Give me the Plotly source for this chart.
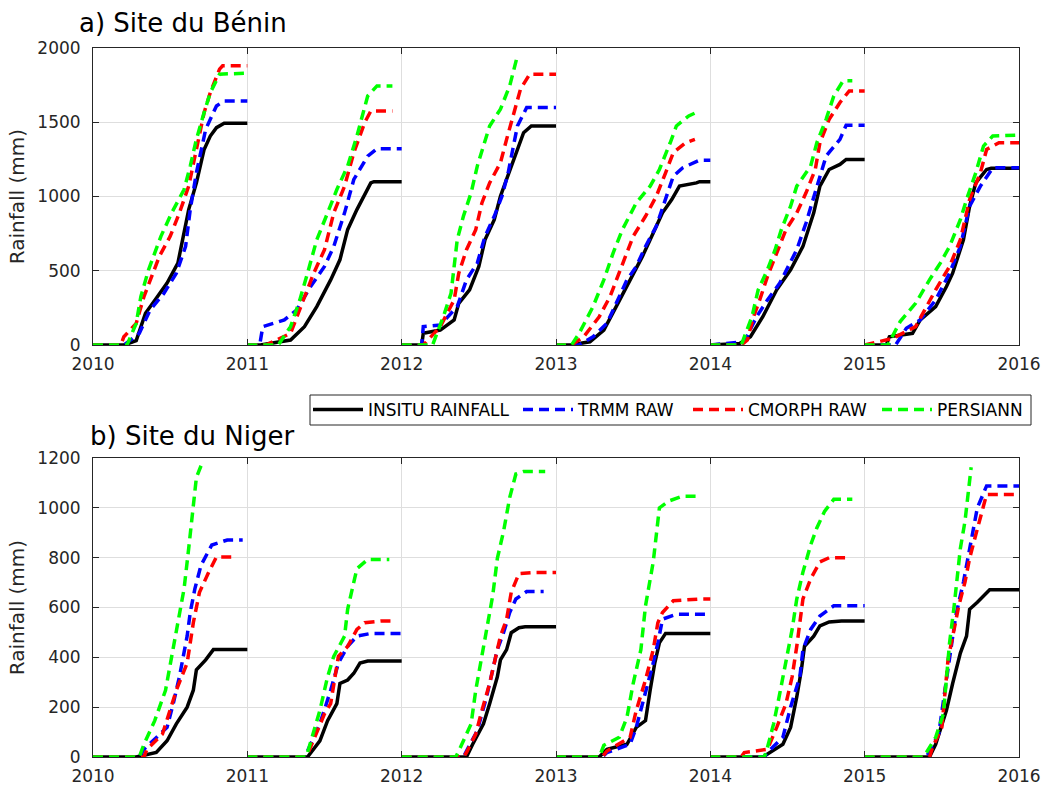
import plotly.graph_objects as go

# cumulative rainfall (mm) per year, as (fraction of year, mm) pairs
YEARS = [2010, 2011, 2012, 2013, 2014, 2015]
SERIES_NAMES = ["INSITU RAINFALL", "TRMM RAW", "CMORPH RAW", "PERSIANN"]
SERIES_COLORS = ["#000000", "#0000ff", "#ff0000", "#00ff00"]

benin_insitu = [
    [(0, 0), (0.2, 0), (0.28, 30), (0.34, 214), (0.41, 315), (0.48, 417), (0.55, 552), (0.6, 800), (0.62, 912), (0.67, 1092), (0.72, 1317), (0.76, 1407), (0.8, 1464), (0.85, 1493), (1, 1493)],
    [(0, 0), (0.085, 0), (0.28, 34), (0.37, 124), (0.45, 259), (0.54, 439), (0.6, 574), (0.65, 777), (0.71, 912), (0.77, 1025), (0.8, 1092), (0.82, 1100), (1, 1100)],
    [(0, 0), (0.13, 0), (0.14, 79), (0.25, 101), (0.34, 169), (0.37, 281), (0.44, 372), (0.5, 529), (0.54, 709), (0.6, 844), (0.64, 1002), (0.68, 1115), (0.74, 1295), (0.79, 1430), (0.84, 1475), (1, 1475)],
    [(0, 0), (0.09, 0), (0.22, 22), (0.31, 101), (0.39, 259), (0.48, 439), (0.56, 597), (0.63, 754), (0.69, 890), (0.75, 980), (0.8, 1070), (0.91, 1092), (0.93, 1100), (1, 1100)],
    [(0, 0), (0.19, 11), (0.26, 56), (0.34, 191), (0.43, 372), (0.52, 507), (0.6, 664), (0.67, 890), (0.71, 1070), (0.77, 1182), (0.84, 1216), (0.88, 1250), (1, 1250)],
    [(0, 0), (0.14, 0), (0.16, 56), (0.31, 79), (0.36, 169), (0.46, 259), (0.53, 394), (0.57, 484), (0.64, 709), (0.68, 935), (0.72, 1092), (0.79, 1182), (0.82, 1190), (1, 1190)],
]
benin_trmm = [
    [(0, 0), (0.2, 0), (0.3, 79), (0.37, 236), (0.46, 349), (0.54, 484), (0.6, 664), (0.63, 912), (0.67, 1160), (0.73, 1452), (0.8, 1610), (0.85, 1644), (1, 1644)],
    [(0, 0), (0.08, 0), (0.1, 124), (0.24, 169), (0.32, 236), (0.41, 394), (0.5, 529), (0.56, 664), (0.63, 890), (0.69, 1115), (0.78, 1272), (0.84, 1322), (1, 1322)],
    [(0, 0), (0.13, 0), (0.14, 124), (0.25, 135), (0.36, 259), (0.42, 439), (0.49, 552), (0.54, 732), (0.6, 867), (0.65, 1002), (0.69, 1160), (0.75, 1475), (0.81, 1599), (1, 1599)],
    [(0, 0), (0.15, 0), (0.24, 56), (0.33, 146), (0.39, 281), (0.46, 439), (0.52, 529), (0.58, 664), (0.65, 800), (0.71, 980), (0.76, 1137), (0.82, 1193), (0.93, 1245), (1, 1245)],
    [(0, 0), (0.22, 22), (0.3, 191), (0.37, 304), (0.45, 417), (0.56, 642), (0.62, 822), (0.68, 1025), (0.75, 1272), (0.84, 1385), (0.88, 1480), (1, 1480)],
    [(0, 0), (0.2, 0), (0.27, 113), (0.36, 169), (0.46, 304), (0.55, 484), (0.62, 664), (0.68, 935), (0.75, 1070), (0.83, 1193), (1, 1193)],
]
benin_cmorph = [
    [(0, 0), (0.18, 0), (0.2, 56), (0.28, 146), (0.33, 326), (0.38, 461), (0.43, 597), (0.5, 732), (0.56, 890), (0.62, 1070), (0.67, 1317), (0.72, 1565), (0.76, 1700), (0.82, 1858), (0.84, 1880), (1, 1880)],
    [(0, 0), (0.12, 0), (0.28, 79), (0.37, 326), (0.43, 484), (0.5, 642), (0.56, 890), (0.63, 1070), (0.69, 1295), (0.76, 1497), (0.8, 1576), (0.94, 1576)],
    [(0, 0), (0.14, 0), (0.25, 124), (0.34, 304), (0.37, 484), (0.42, 642), (0.48, 777), (0.52, 957), (0.57, 1092), (0.64, 1227), (0.68, 1385), (0.72, 1543), (0.77, 1723), (0.83, 1824), (1, 1824)],
    [(0, 0), (0.1, 0), (0.18, 56), (0.28, 191), (0.35, 326), (0.41, 484), (0.5, 732), (0.58, 867), (0.65, 1002), (0.71, 1160), (0.76, 1295), (0.84, 1362), (0.9, 1385)],
    [(0, 0), (0.2, 0), (0.24, 34), (0.28, 191), (0.32, 304), (0.37, 461), (0.43, 619), (0.49, 777), (0.56, 890), (0.62, 1025), (0.68, 1182), (0.71, 1362), (0.77, 1520), (0.84, 1633), (0.9, 1711), (1, 1711)],
    [(0, 0), (0.18, 45), (0.33, 124), (0.4, 259), (0.46, 372), (0.55, 529), (0.62, 709), (0.68, 980), (0.75, 1160), (0.79, 1317), (0.87, 1362), (1, 1362)],
]
benin_persiann = [
    [(0, 0), (0.22, 0), (0.28, 146), (0.31, 326), (0.36, 507), (0.4, 619), (0.44, 732), (0.51, 890), (0.59, 1047), (0.63, 1205), (0.67, 1385), (0.72, 1565), (0.76, 1700), (0.82, 1824), (1, 1830)],
    [(0, 0), (0.2, 0), (0.28, 124), (0.34, 304), (0.39, 484), (0.45, 709), (0.52, 890), (0.58, 1047), (0.65, 1205), (0.71, 1407), (0.78, 1677), (0.84, 1745), (0.94, 1745)],
    [(0, 0), (0.2, 0), (0.27, 191), (0.32, 349), (0.34, 529), (0.36, 709), (0.4, 867), (0.45, 1025), (0.49, 1205), (0.53, 1340), (0.57, 1475), (0.64, 1588), (0.7, 1745), (0.75, 1948)],
    [(0, 0), (0.1, 0), (0.15, 79), (0.24, 259), (0.31, 439), (0.37, 619), (0.43, 777), (0.52, 957), (0.61, 1070), (0.67, 1182), (0.74, 1362), (0.78, 1475), (0.86, 1543), (0.93, 1576)],
    [(0, 0), (0.2, 0), (0.27, 191), (0.31, 372), (0.37, 507), (0.42, 642), (0.46, 777), (0.52, 935), (0.56, 1070), (0.65, 1205), (0.69, 1362), (0.75, 1520), (0.8, 1677), (0.86, 1779), (0.92, 1779)],
    [(0, 0), (0.15, 0), (0.23, 158), (0.33, 281), (0.42, 439), (0.49, 552), (0.55, 664), (0.62, 844), (0.66, 980), (0.72, 1160), (0.77, 1340), (0.83, 1407), (1, 1414)],
]

niger_insitu = [
    [(0, 0), (0.28, 0), (0.41, 18), (0.48, 65), (0.54, 133), (0.61, 200), (0.65, 268), (0.67, 350), (0.73, 390), (0.78, 431), (1, 431)],
    [(0, 0), (0.39, 0), (0.47, 65), (0.52, 146), (0.58, 214), (0.6, 295), (0.65, 309), (0.69, 336), (0.73, 377), (0.78, 385), (1, 385)],
    [(0, 0), (0.42, 0), (0.46, 51), (0.53, 133), (0.57, 214), (0.62, 322), (0.64, 390), (0.68, 431), (0.71, 499), (0.76, 519), (0.8, 523), (1, 523)],
    [(0, 0), (0.28, 0), (0.33, 31), (0.46, 51), (0.52, 119), (0.58, 146), (0.61, 268), (0.64, 377), (0.67, 458), (0.71, 496), (1, 496)],
    [(0, 0), (0.34, 0), (0.47, 51), (0.52, 119), (0.56, 241), (0.59, 350), (0.61, 444), (0.67, 485), (0.71, 526), (0.77, 542), (0.85, 546), (1, 546)],
    [(0, 0), (0.42, 0), (0.46, 51), (0.53, 187), (0.57, 295), (0.62, 417), (0.66, 485), (0.68, 593), (0.73, 621), (0.77, 648), (0.81, 671), (1, 671)],
]
niger_trmm = [
    [(0, 0), (0.3, 0), (0.33, 31), (0.41, 79), (0.48, 119), (0.52, 214), (0.56, 322), (0.61, 485), (0.63, 580), (0.66, 675), (0.7, 770), (0.77, 851), (0.87, 871), (0.97, 871)],
    [(0, 0), (0.37, 0), (0.39, 24), (0.47, 133), (0.54, 268), (0.59, 377), (0.65, 444), (0.71, 485), (0.8, 496), (1, 496)],
    [(0, 0), (0.4, 0), (0.42, 24), (0.49, 106), (0.55, 241), (0.62, 431), (0.66, 499), (0.7, 580), (0.74, 634), (0.81, 664), (0.92, 664)],
    [(0, 0), (0.3, 0), (0.33, 18), (0.48, 51), (0.52, 119), (0.58, 255), (0.63, 377), (0.66, 458), (0.69, 553), (0.78, 573), (1, 573)],
    [(0, 0), (0.35, 0), (0.37, 18), (0.47, 79), (0.52, 200), (0.58, 322), (0.6, 431), (0.65, 512), (0.71, 566), (0.8, 607), (1, 607)],
    [(0, 0), (0.4, 0), (0.42, 24), (0.48, 92), (0.52, 268), (0.55, 404), (0.59, 566), (0.64, 702), (0.67, 797), (0.7, 905), (0.73, 1000), (0.79, 1088), (1, 1088)],
]
niger_cmorph = [
    [(0, 0), (0.33, 0), (0.35, 31), (0.45, 92), (0.54, 268), (0.61, 377), (0.65, 539), (0.69, 661), (0.75, 742), (0.8, 803), (0.91, 803)],
    [(0, 0), (0.37, 0), (0.39, 11), (0.5, 173), (0.54, 214), (0.59, 404), (0.65, 444), (0.71, 512), (0.76, 539), (0.87, 546), (0.93, 546)],
    [(0, 0), (0.4, 0), (0.42, 18), (0.48, 92), (0.52, 187), (0.57, 295), (0.61, 404), (0.64, 485), (0.68, 553), (0.71, 661), (0.76, 736), (0.85, 740), (1, 740)],
    [(0, 0), (0.3, 0), (0.33, 24), (0.48, 79), (0.52, 187), (0.58, 309), (0.63, 431), (0.66, 539), (0.69, 580), (0.76, 627), (0.93, 634), (1, 634)],
    [(0, 0), (0.2, 0), (0.22, 18), (0.37, 31), (0.43, 119), (0.49, 214), (0.53, 322), (0.56, 444), (0.6, 634), (0.65, 715), (0.71, 783), (0.77, 800), (0.91, 800)],
    [(0, 0), (0.42, 0), (0.44, 38), (0.5, 119), (0.54, 390), (0.61, 607), (0.65, 702), (0.68, 797), (0.72, 892), (0.76, 986), (0.79, 1054), (1, 1054)],
]
niger_persiann = [
    [(0, 0), (0.3, 0), (0.33, 51), (0.4, 146), (0.47, 268), (0.51, 404), (0.55, 539), (0.59, 675), (0.62, 837), (0.65, 1027), (0.67, 1122), (0.7, 1169)],
    [(0, 0), (0.38, 0), (0.4, 38), (0.47, 187), (0.52, 322), (0.56, 404), (0.63, 485), (0.65, 593), (0.69, 702), (0.71, 756), (0.78, 793), (0.92, 793)],
    [(0, 0), (0.35, 0), (0.37, 24), (0.45, 133), (0.48, 268), (0.51, 377), (0.55, 512), (0.59, 648), (0.62, 797), (0.66, 905), (0.7, 1041), (0.74, 1136), (0.79, 1146), (0.93, 1146)],
    [(0, 0), (0.28, 0), (0.31, 47), (0.41, 79), (0.46, 160), (0.5, 295), (0.55, 431), (0.58, 607), (0.63, 783), (0.65, 905), (0.67, 1000), (0.73, 1027), (0.82, 1047), (0.91, 1047)],
    [(0, 0), (0.35, 0), (0.37, 38), (0.41, 133), (0.45, 255), (0.49, 377), (0.53, 512), (0.56, 634), (0.6, 742), (0.65, 851), (0.69, 919), (0.74, 986), (0.8, 1034), (0.92, 1034)],
    [(0, 0), (0.38, 0), (0.4, 18), (0.46, 79), (0.51, 173), (0.53, 309), (0.55, 458), (0.58, 607), (0.6, 729), (0.62, 837), (0.65, 946), (0.67, 1054), (0.69, 1163)],
]

BENIN = [benin_insitu, benin_trmm, benin_cmorph, benin_persiann]
NIGER = [niger_insitu, niger_trmm, niger_cmorph, niger_persiann]


def to_xy(per_year):
    # join the yearly curves into one trace, broken at each new year
    xs, ys = [], []
    for year, pts in zip(YEARS, per_year):
        for frac, mm in pts:
            xs.append(year + frac)
            ys.append(mm)
        xs.append(None)
        ys.append(None)
    return xs, ys


FONT = "DejaVu Sans, Liberation Sans, sans-serif"
AXIS_COLOR = "#262626"
GRID_COLOR = "#dedede"

# plot area in page pixels: x 93..1019, y 48..757
PX_L, PX_W, PX_T, PX_H = 93, 926, 48, 709


def px_x(px):
    return (px - PX_L) / PX_W


def px_y(py):
    return (PX_T + PX_H - py) / PX_H


# one legend per entry so the spacing can follow the original
LEGEND_KEYS = ["legend", "legend2", "legend3", "legend4"]
LEGEND_LEFT = [308, 518, 688, 877]

fig = go.Figure()

for site, (xa, ya) in [(BENIN, ("x", "y")), (NIGER, ("x2", "y2"))]:
    for i, series in enumerate(site):
        xs, ys = to_xy(series)
        solid = i == 0
        fig.add_trace(go.Scatter(
            x=xs, y=ys, mode="lines",
            name=SERIES_NAMES[i],
            legendgroup=SERIES_NAMES[i],
            legend=LEGEND_KEYS[i],
            showlegend=(xa == "x"),
            line=dict(color=SERIES_COLORS[i], width=3.5,
                      dash="solid" if solid else "10px,6px"),
            xaxis=xa, yaxis=ya,
            connectgaps=False,
        ))

axis_common = dict(
    showline=True, linecolor=AXIS_COLOR, linewidth=1, mirror="ticks",
    ticks="inside", ticklen=6, tickcolor=AXIS_COLOR,
    showgrid=True, gridcolor=GRID_COLOR, gridwidth=1,
    zeroline=False, automargin=False,
    tickfont=dict(family=FONT, size=17, color="#262626"),
)

xticks = YEARS + [2016]
ytitle = dict(text="Rainfall (mm)", font=dict(size=20, family=FONT), standoff=7)
fig.update_layout(
    width=1046, height=785,
    paper_bgcolor="white", plot_bgcolor="white",
    margin=dict(l=93, r=27, t=48, b=28),
    font=dict(family=FONT, color="#262626"),
    xaxis=dict(domain=[0, 1], anchor="y", range=[2010, 2016], ticklabelstandoff=4,
               tickvals=xticks, ticktext=[str(t) for t in xticks], **axis_common),
    yaxis=dict(domain=[0.581, 1], anchor="x", range=[0, 2000], tickvals=[0, 500, 1000, 1500, 2000],
               ticklabelstandoff=8, title=ytitle, **axis_common),
    xaxis2=dict(domain=[0, 1], anchor="y2", range=[2010, 2016], ticklabelstandoff=4,
                tickvals=xticks, ticktext=[str(t) for t in xticks], **axis_common),
    yaxis2=dict(domain=[0, 0.4217], anchor="x2", range=[0, 1200],
                tickvals=[0, 200, 400, 600, 800, 1000, 1200],
                ticklabelstandoff=8, title=ytitle, **axis_common),
    showlegend=True,
)

for key, left in zip(LEGEND_KEYS, LEGEND_LEFT):
    fig.update_layout({key: dict(
        orientation="h", x=px_x(left), xanchor="left", y=px_y(410), yanchor="middle",
        borderwidth=0, bgcolor="rgba(0,0,0,0)", itemwidth=50,
        font=dict(family=FONT, size=17, color="#000000"),
    )})

# legend frame
fig.add_shape(type="rect", xref="paper", yref="paper",
              x0=px_x(310), x1=px_x(1031), y0=px_y(425), y1=px_y(395),
              line=dict(color=AXIS_COLOR, width=1), fillcolor="white", layer="below")

fig.add_annotation(text="a) Site du Bénin", xref="paper", yref="paper",
                   x=px_x(77), y=px_y(23),
                   xanchor="left", yanchor="middle", showarrow=False,
                   font=dict(family=FONT, size=26, color="#000000"))
fig.add_annotation(text="b) Site du Niger", xref="paper", yref="paper",
                   x=px_x(88), y=px_y(436),
                   xanchor="left", yanchor="middle", showarrow=False,
                   font=dict(family=FONT, size=26, color="#000000"))

# page body has a default 8px margin; drop it so the figure sits at the window corner
fig.write_html("out.html", config={"displayModeBar": False},
               post_script="document.body.style.margin='0px';")
